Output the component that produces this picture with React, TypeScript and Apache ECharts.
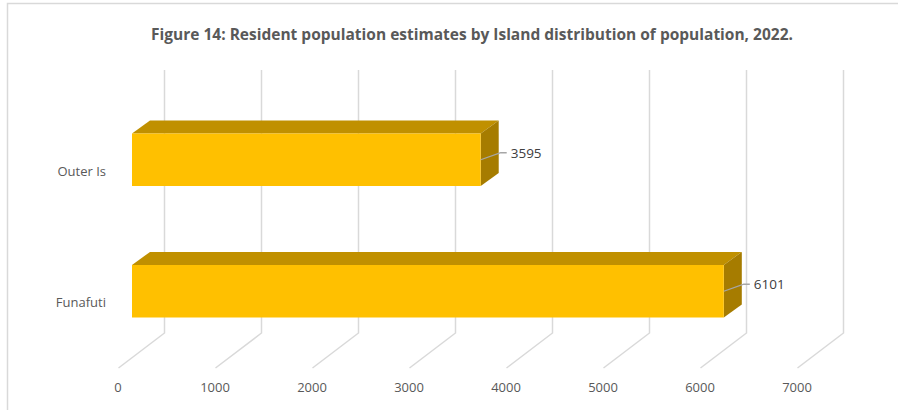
import React, { useEffect, useRef } from "react";
import * as echarts from "echarts";

const categories = ["Funafuti", "Outer Is"];
const populationValues = [6101, 3595];
const tickValues = [0, 1000, 2000, 3000, 4000, 5000, 6000, 7000];
const titleText =
  "Figure 14: Resident population estimates by Island distribution of population, 2022.";

const FONT = "'Open Sans', 'Liberation Sans', sans-serif";

export default function App() {
  const ref = useRef<HTMLDivElement>(null);
  useEffect(() => {
    if (!ref.current) return;
    const chart = echarts.init(ref.current, null, { renderer: "svg" });
    const grid = "#d9d9d9";
    const depthX = 46;
    const depthY = -35;
    const option: any = {
      animation: false,
      backgroundColor: "#ffffff",
      title: {
        text: titleText,
        left: 467,
        top: 21,
        textAlign: "center",
        textStyle: {
          fontFamily: FONT,
          fontSize: 15.5,
          fontWeight: "bold",
          color: "#595959",
        },
      },
      graphic: [
        {
          type: "rect",
          shape: { x: 7.5, y: 3.5, width: 1000, height: 1000 },
          style: { fill: "none", stroke: grid, lineWidth: 1.5 },
          silent: true,
          z: -10,
        },
      ],
      grid: { left: 118, right: 101, top: 105, bottom: 42 },
      xAxis: {
        type: "value",
        min: 0,
        max: 7000,
        interval: 1000,
        axisLine: { show: false },
        axisTick: { show: false },
        splitLine: { show: false },
        axisLabel: {
          margin: 12,
          fontFamily: FONT,
          fontSize: 13,
          color: "#595959",
          formatter: (v: number) => String(v),
        },
      },
      yAxis: {
        type: "category",
        data: categories,
        axisLine: { show: false },
        axisTick: { show: false },
        axisLabel: {
          margin: 12,
          fontFamily: FONT,
          fontSize: 13,
          color: "#595959",
        },
      },
      series: [
        {
          type: "custom",
          silent: true,
          data: tickValues.map((v) => [v, 0]),
          renderItem: (params: any, api: any) => {
            const cs = params.coordSys;
            const v = api.value(0);
            const x = Math.round(api.coord([v, 0])[0]) + 0.5;
            const bottom = cs.y + cs.height;
            return {
              type: "polyline",
              shape: {
                points: [
                  [x, bottom],
                  [x + depthX, bottom + depthY],
                  [x + depthX, cs.y + depthY],
                ],
              },
              style: { stroke: grid, lineWidth: 1.5, fill: "none" },
            };
          },
          z: 1,
        },
        {
          type: "custom",
          data: populationValues.map((v, i) => [v, i]),
          renderItem: (params: any, api: any) => {
            const v = api.value(0);
            const c = api.value(1);
            const end = api.coord([v, c]);
            const start = api.coord([0, c]);
            const band = api.size([0, 1])[1];
            const h = band * 0.4;
            const fx0 = start[0] + 14;
            const fx1 = end[0] + 14;
            const cy = end[1] - 11;
            const fy0 = cy - h / 2;
            const fy1 = cy + h / 2;
            const dx = 18;
            const dy = -13;
            return {
              type: "group",
              children: [
                {
                  type: "polygon",
                  shape: {
                    points: [
                      [fx0, fy0],
                      [fx0 + dx, fy0 + dy],
                      [fx1 + dx, fy0 + dy],
                      [fx1, fy0],
                    ],
                  },
                  style: { fill: "#C09000" },
                },
                {
                  type: "polygon",
                  shape: {
                    points: [
                      [fx1, fy0],
                      [fx1 + dx, fy0 + dy],
                      [fx1 + dx, fy1 + dy],
                      [fx1, fy1],
                    ],
                  },
                  style: { fill: "#A67C00" },
                },
                {
                  type: "rect",
                  shape: { x: fx0, y: fy0, width: fx1 - fx0, height: fy1 - fy0 },
                  style: { fill: "#FFC000" },
                },
                {
                  type: "polyline",
                  shape: {
                    points: [
                      [fx1, cy],
                      [fx1 + 20, cy - 7],
                      [fx1 + 26, cy - 7],
                    ],
                  },
                  style: { stroke: "#a6a6a6", lineWidth: 1.3, fill: "none" },
                },
                {
                  type: "text",
                  style: {
                    x: fx1 + 30,
                    y: cy - 7,
                    text: String(v),
                    fill: "#404040",
                    font: `13.5px ${FONT}`,
                    textVerticalAlign: "middle",
                    verticalAlign: "middle",
                  },
                },
              ],
            };
          },
          z: 2,
        },
      ],
    };
    chart.setOption(option);
    return () => chart.dispose();
  }, []);
  return (
    <div
      ref={ref}
      style={{ position: "fixed", left: 0, top: 0, width: 898, height: 410 }}
    />
  );
}
